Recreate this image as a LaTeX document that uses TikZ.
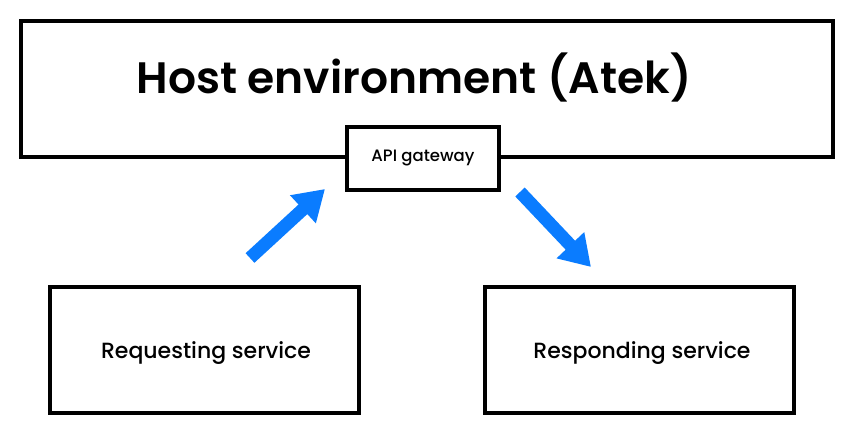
\documentclass[tikz,border=0pt]{standalone}
\usepackage{fontspec}
\setmainfont{Poppins Medium}[BoldFont={Poppins SemiBold}]
\usetikzlibrary{arrows.meta}
\definecolor{arrowblue}{HTML}{0A7CFF}
\tikzset{
  box/.style={draw=black, line width=3.5pt, fill=white, inner sep=0pt},
  flow/.style={draw=arrowblue, line width=13pt, -{Triangle[length=30pt,width=36pt]}},
  svc/.style={box, minimum width=309pt, minimum height=126pt},
  svctext/.style={font=\fontsize{22}{26}\selectfont},
}
\begin{document}
\begin{tikzpicture}[x=1pt,y=-1pt]
\useasboundingbox (0,0) rectangle (852,439);
\node[box, minimum width=812pt, minimum height=136pt] (host) at (427,89) {};
\node[font=\bfseries\fontsize{44}{52}\selectfont] (title) at (414,78) {Host environment (Atek)};
\node[box, minimum width=152pt, minimum height=63pt, font=\fontsize{16.5}{20}\selectfont] (gw) at (423,158.5) {API gateway};
\node[svc] (req) at (204.5,350) {};
\node[svctext] (reqt) at (206,353) {Requesting service};
\node[svc] (resp) at (639.5,350) {};
\node[svctext] (respt) at (642,353) {Responding service};
\coordinate (a1s) at (250,258);
\coordinate (a1e) at (325,189);
\coordinate (a2s) at (520,192);
\coordinate (a2e) at (591,267);
\draw[flow] (a1s) -- (a1e);
\draw[flow] (a2s) -- (a2e);
\end{tikzpicture}
\end{document}
